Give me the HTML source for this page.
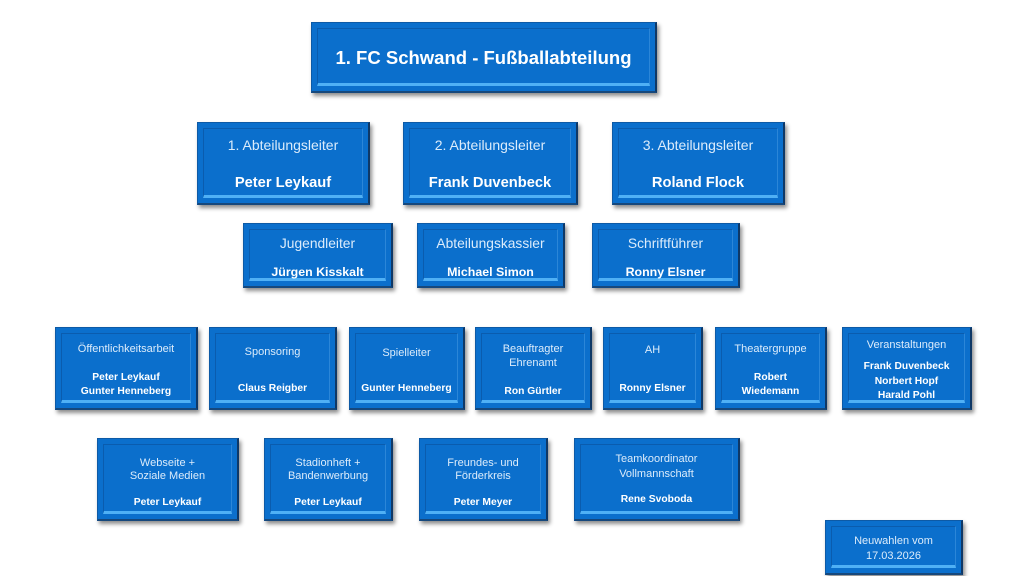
<!DOCTYPE html>
<html><head><meta charset="utf-8">
<style>
html,body{margin:0;padding:0;background:#fff;}
body{width:1030px;height:576px;position:relative;overflow:hidden;font-family:"Liberation Sans",Arial,sans-serif;}
.b{position:absolute;box-sizing:border-box;background:#0b6fcc;border:1px solid #0d5aa6;border-right:2px solid #0f3866;border-bottom:2px solid #16487c;box-shadow:2px 3px 4px rgba(0,0,0,0.45);color:#dcecfb;}
.b::before{content:'';position:absolute;left:5px;right:5px;top:5px;bottom:5px;border-top:1px solid #0a5cae;border-left:1px solid #0a5cae;border-right:1px solid #2b86d8;border-bottom:3px solid #4fb0f5;}
.t{position:absolute;left:0;right:0;text-align:center;white-space:nowrap;line-height:14px;height:14px;font-size:11px;}
.n{font-weight:bold;font-size:10.3px;color:#fff;}
.L{line-height:16px;height:16px;font-size:14px;}
.N{line-height:16px;height:16px;font-size:14.7px;font-weight:bold;color:#fff;}
.L3{line-height:16px;height:16px;font-size:13.8px;}
.N3{line-height:16px;height:16px;font-size:12.4px;font-weight:bold;color:#fff;}
</style></head><body>

<div class="b" style="left:311px;top:22px;width:346px;height:71px;">
  <div class="t" style="top:24px;height:22px;line-height:22px;font-size:18.5px;font-weight:bold;color:#fff;">1. FC Schwand - Fußballabteilung</div>
</div>

<div class="b" style="left:197px;top:122px;width:173px;height:83px;">
  <div class="t L" style="top:14px;">1. Abteilungsleiter</div>
  <div class="t N" style="top:52px;">Peter Leykauf</div>
</div>
<div class="b" style="left:403px;top:122px;width:175px;height:83px;">
  <div class="t L" style="top:14px;">2. Abteilungsleiter</div>
  <div class="t N" style="top:52px;">Frank Duvenbeck</div>
</div>
<div class="b" style="left:612px;top:122px;width:173px;height:83px;">
  <div class="t L" style="top:14px;">3. Abteilungsleiter</div>
  <div class="t N" style="top:52px;">Roland Flock</div>
</div>

<div class="b" style="left:243px;top:223px;width:150px;height:65px;">
  <div class="t L3" style="top:12px;">Jugendleiter</div>
  <div class="t N3" style="top:40px;">Jürgen Kisskalt</div>
</div>
<div class="b" style="left:417px;top:223px;width:148px;height:65px;">
  <div class="t L3" style="top:12px;">Abteilungskassier</div>
  <div class="t N3" style="top:40px;">Michael Simon</div>
</div>
<div class="b" style="left:592px;top:223px;width:148px;height:65px;">
  <div class="t L3" style="top:12px;">Schriftführer</div>
  <div class="t N3" style="top:40px;">Ronny Elsner</div>
</div>

<div class="b" style="left:55px;top:327px;width:143px;height:83px;">
  <div class="t" style="top:14px;">Öffentlichkeitsarbeit</div>
  <div class="t n" style="top:43px;">Peter Leykauf</div>
  <div class="t n" style="top:57px;">Gunter Henneberg</div>
</div>
<div class="b" style="left:209px;top:327px;width:128px;height:83px;">
  <div class="t" style="top:17px;">Sponsoring</div>
  <div class="t n" style="top:54px;">Claus Reigber</div>
</div>
<div class="b" style="left:349px;top:327px;width:116px;height:83px;">
  <div class="t" style="top:18px;">Spielleiter</div>
  <div class="t n" style="top:54px;">Gunter Henneberg</div>
</div>
<div class="b" style="left:475px;top:327px;width:117px;height:83px;">
  <div class="t" style="top:14px;">Beauftragter</div>
  <div class="t" style="top:28px;">Ehrenamt</div>
  <div class="t n" style="top:57px;">Ron Gürtler</div>
</div>
<div class="b" style="left:603px;top:327px;width:100px;height:83px;">
  <div class="t" style="top:15px;">AH</div>
  <div class="t n" style="top:54px;">Ronny Elsner</div>
</div>
<div class="b" style="left:715px;top:327px;width:112px;height:83px;">
  <div class="t" style="top:14px;">Theatergruppe</div>
  <div class="t n" style="top:43px;">Robert</div>
  <div class="t n" style="top:57px;">Wiedemann</div>
</div>
<div class="b" style="left:842px;top:327px;width:130px;height:83px;">
  <div class="t" style="top:10px;">Veranstaltungen</div>
  <div class="t n" style="top:32px;">Frank Duvenbeck</div>
  <div class="t n" style="top:47px;">Norbert Hopf</div>
  <div class="t n" style="top:61px;">Harald Pohl</div>
</div>

<div class="b" style="left:97px;top:438px;width:142px;height:83px;">
  <div class="t" style="top:17px;">Webseite +</div>
  <div class="t" style="top:30px;">Soziale Medien</div>
  <div class="t n" style="top:57px;">Peter Leykauf</div>
</div>
<div class="b" style="left:264px;top:438px;width:129px;height:83px;">
  <div class="t" style="top:17px;">Stadionheft +</div>
  <div class="t" style="top:30px;">Bandenwerbung</div>
  <div class="t n" style="top:57px;">Peter Leykauf</div>
</div>
<div class="b" style="left:419px;top:438px;width:129px;height:83px;">
  <div class="t" style="top:17px;">Freundes- und</div>
  <div class="t" style="top:30px;">Förderkreis</div>
  <div class="t n" style="top:57px;">Peter Meyer</div>
</div>
<div class="b" style="left:574px;top:438px;width:166px;height:83px;">
  <div class="t" style="top:13px;">Teamkoordinator</div>
  <div class="t" style="top:28px;">Vollmannschaft</div>
  <div class="t n" style="top:54px;">Rene Svoboda</div>
</div>

<div class="b" style="left:825px;top:520px;width:138px;height:55px;">
  <div class="t" style="top:13px;">Neuwahlen vom</div>
  <div class="t" style="top:28px;">17.03.2026</div>
</div>

</body></html>
